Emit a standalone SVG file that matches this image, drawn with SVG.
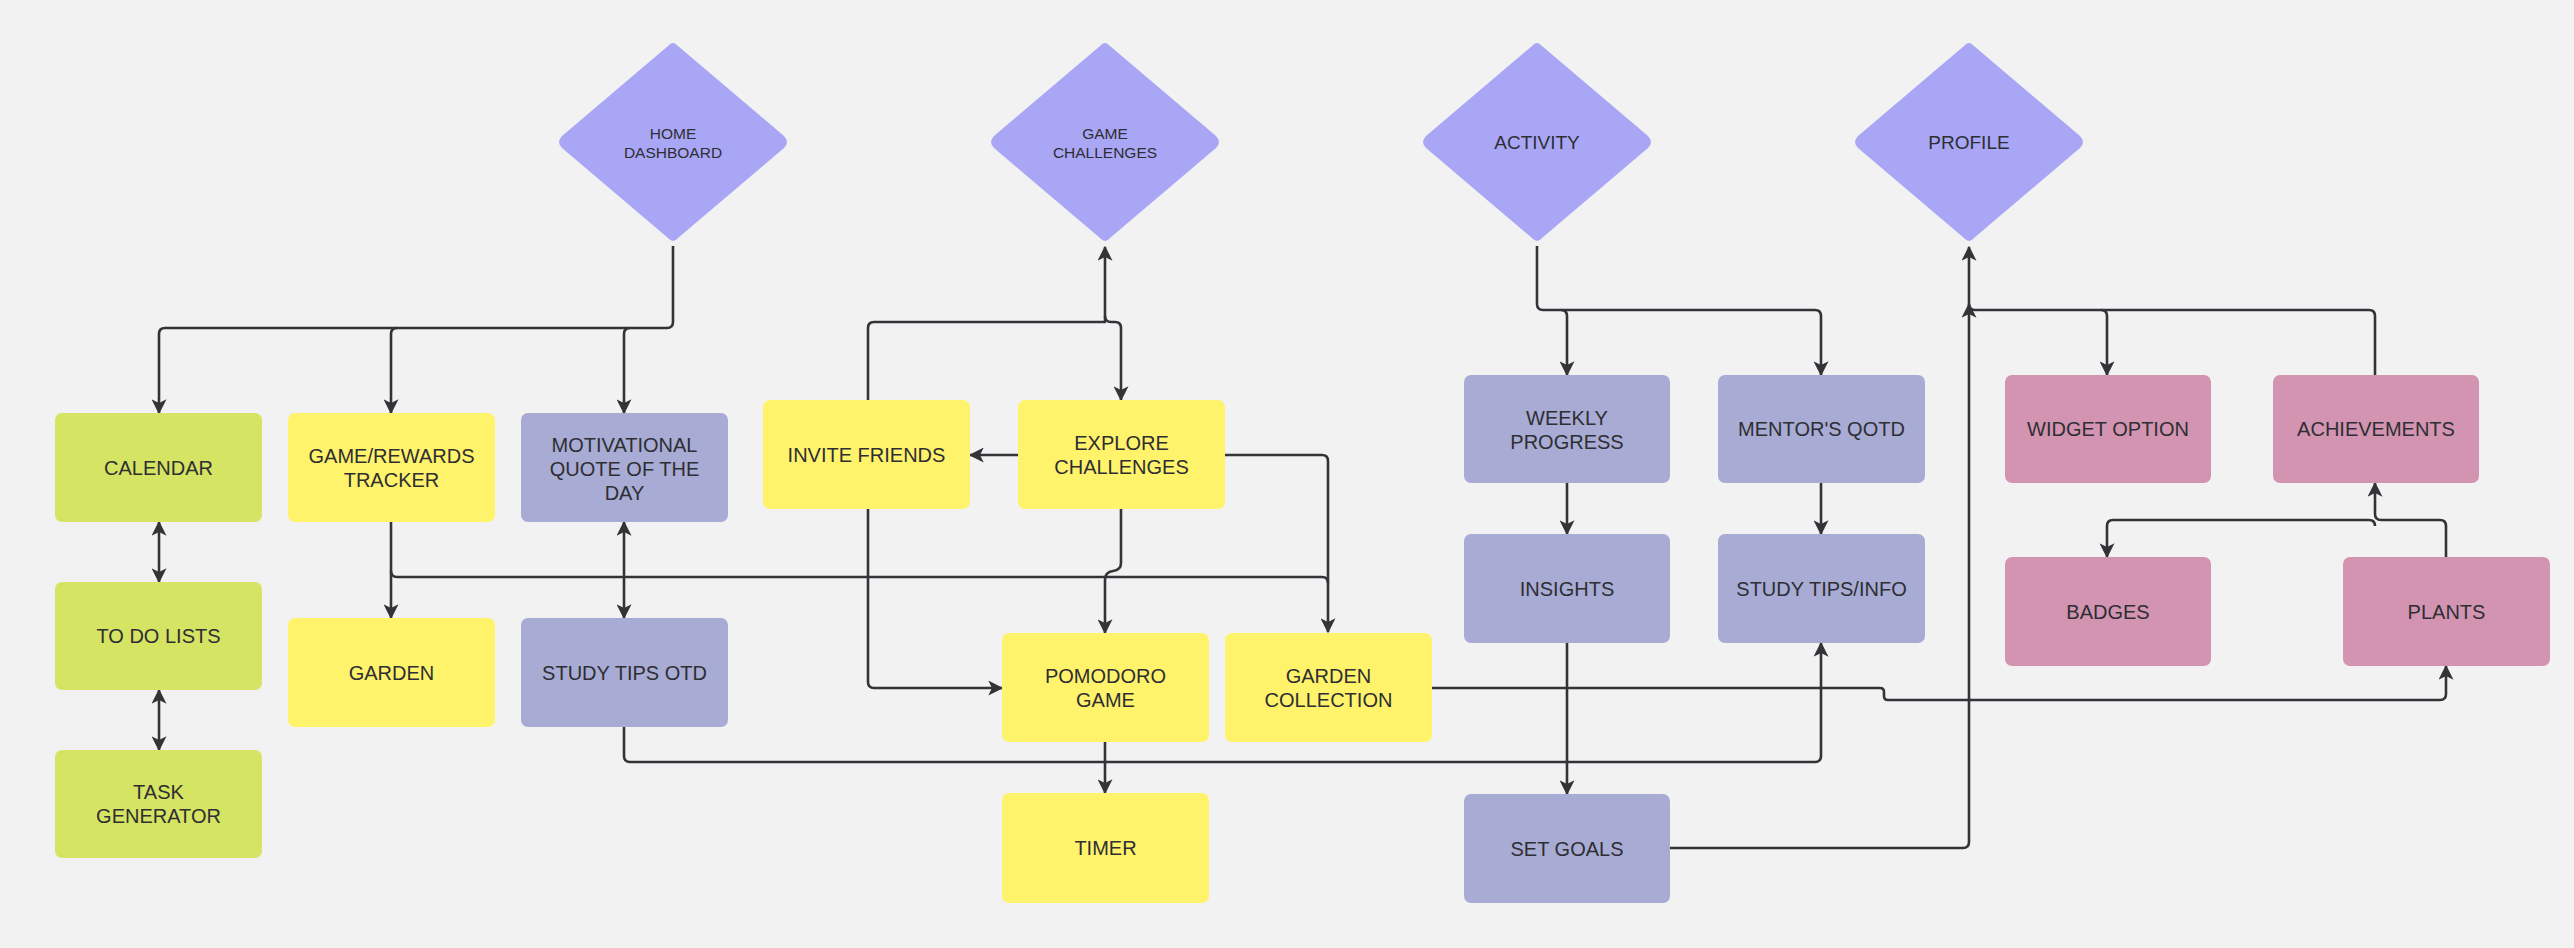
<svg xmlns="http://www.w3.org/2000/svg" width="2574" height="948" viewBox="0 0 2574 948">
<style>
.bg{fill:#f2f2f2}
.dia{fill:#a9a6f6}
.g{fill:#d5e462}
.y{fill:#fff36b}
.b{fill:#a8abd3}
.p{fill:#d394b1}
.t{font-family:"Liberation Sans",Arial,sans-serif;font-size:20px;fill:#2e2e33;text-anchor:middle}
.ts{font-family:"Liberation Sans",Arial,sans-serif;font-size:15.5px;fill:#2e2e33;text-anchor:middle}
.tm{font-family:"Liberation Sans",Arial,sans-serif;font-size:19px;fill:#2e2e33;text-anchor:middle}
.c{fill:none;stroke:#333338;stroke-width:2.6;stroke-linejoin:round}
.a{marker-end:url(#ah)}
.aa{marker-end:url(#ah);marker-start:url(#ah)}
</style>
<defs>
<marker id="ah" viewBox="0 0 12 12" refX="11" refY="6" markerWidth="15" markerHeight="15" markerUnits="userSpaceOnUse" orient="auto-start-reverse">
<path d="M0,0 L12,6 L0,12 L3,6 z" fill="#333338"/>
</marker>
</defs>
<rect class="bg" x="0" y="0" width="2574" height="948"/>

<g id="connectors">
<path class="c a" d="M673,246 V322 Q673,328 667,328 H165 Q159,328 159,334 V413"/>
<path class="c a" d="M397,328 Q391,328 391,334 V413"/>
<path class="c a" d="M630,328 Q624,328 624,334 V413"/>
<path class="c aa" d="M159,522 V582"/>
<path class="c aa" d="M159,690 V750"/>
<path class="c a" d="M391,522 V618"/>
<path class="c" d="M391,571 Q391,577 397,577 H1322 Q1328,577 1328,583"/>
<path class="c aa" d="M624,522 V618"/>
<path class="c a" d="M624,727 V756 Q624,762 630,762 H1815 Q1821,762 1821,756 V643"/>
<path class="c a" d="M868,400 V328 Q868,322 874,322 H1105 V247"/>
<path class="c a" d="M1105,316 Q1105,322 1111,322 H1115 Q1121,322 1121,328 V400"/>
<path class="c a" d="M1018,455 H970"/>
<path class="c a" d="M1225,455 H1322 Q1328,455 1328,461 V632"/>
<path class="c a" d="M1121,509 V563 Q1121,570 1113,571 Q1105,572 1105,580 V633"/>
<path class="c a" d="M868,509 V682 Q868,688 874,688 H1002"/>
<path class="c a" d="M1105,742 V793"/>
<path class="c a" d="M1432,688 H1880 Q1884,688 1884,692 V696 Q1884,700 1888,700 H2440 Q2446,700 2446,694 V666"/>
<path class="c a" d="M1537,246 V304 Q1537,310 1543,310 H1561 Q1567,310 1567,316 V375"/>
<path class="c a" d="M1561,310 H1815 Q1821,310 1821,316 V375"/>
<path class="c a" d="M1567,483 V534"/>
<path class="c a" d="M1821,483 V534"/>
<path class="c a" d="M1567,643 V794"/>
<path class="c a" d="M1670,848 H1963 Q1969,848 1969,842 V247"/>
<path class="c a" d="M2375,375 V316 Q2375,310 2369,310 H1975 Q1969,310 1969,304"/>
<path class="c a" d="M2101,310 Q2107,310 2107,316 V375"/>
<path class="c a" d="M2375,526 Q2375,520 2369,520 H2113 Q2107,520 2107,526 V557"/>
<path class="c a" d="M2446,557 V526 Q2446,520 2440,520 H2381 Q2375,520 2375,514 V483"/>
</g>

<g id="home-dashboard">
<path class="dia" d="M668,46 Q673,40 678,46 L784,136 Q790,142 784,148 L678,238 Q673,244 668,238 L562,148 Q556,142 562,136 Z"/>
<text class="ts" x="673" y="139">HOME</text>
<text class="ts" x="673" y="158">DASHBOARD</text>
</g>
<g id="game-challenges">
<path class="dia" d="M1100,46 Q1105,40 1110,46 L1216,136 Q1222,142 1216,148 L1110,238 Q1105,244 1100,238 L994,148 Q988,142 994,136 Z"/>
<text class="ts" x="1105" y="139">GAME</text>
<text class="ts" x="1105" y="158">CHALLENGES</text>
</g>
<g id="activity">
<path class="dia" d="M1532,46 Q1537,40 1542,46 L1648,136 Q1654,142 1648,148 L1542,238 Q1537,244 1532,238 L1426,148 Q1420,142 1426,136 Z"/>
<text class="tm" x="1537" y="149">ACTIVITY</text>
</g>
<g id="profile">
<path class="dia" d="M1964,46 Q1969,40 1974,46 L2080,136 Q2086,142 2080,148 L1974,238 Q1969,244 1964,238 L1858,148 Q1852,142 1858,136 Z"/>
<text class="tm" x="1969" y="149">PROFILE</text>
</g>

<g id="calendar"><rect class="g" x="55" y="413" width="207" height="109" rx="7"/><text class="t" x="158.5" y="475">CALENDAR</text></g>
<g id="to-do-lists"><rect class="g" x="55" y="582" width="207" height="108" rx="7"/><text class="t" x="158.5" y="643">TO DO LISTS</text></g>
<g id="task-generator"><rect class="g" x="55" y="750" width="207" height="108" rx="7"/><text class="t" x="158.5" y="799">TASK</text><text class="t" x="158.5" y="823">GENERATOR</text></g>
<g id="game-rewards-tracker"><rect class="y" x="288" y="413" width="207" height="109" rx="7"/><text class="t" x="391.5" y="463">GAME/REWARDS</text><text class="t" x="391.5" y="487">TRACKER</text></g>
<g id="garden"><rect class="y" x="288" y="618" width="207" height="109" rx="7"/><text class="t" x="391.5" y="680">GARDEN</text></g>
<g id="motivational-quote"><rect class="b" x="521" y="413" width="207" height="109" rx="7"/><text class="t" x="624.5" y="452">MOTIVATIONAL</text><text class="t" x="624.5" y="476">QUOTE OF THE</text><text class="t" x="624.5" y="500">DAY</text></g>
<g id="study-tips-otd"><rect class="b" x="521" y="618" width="207" height="109" rx="7"/><text class="t" x="624.5" y="680">STUDY TIPS OTD</text></g>
<g id="invite-friends"><rect class="y" x="763" y="400" width="207" height="109" rx="7"/><text class="t" x="866.5" y="462">INVITE FRIENDS</text></g>
<g id="explore-challenges"><rect class="y" x="1018" y="400" width="207" height="109" rx="7"/><text class="t" x="1121.5" y="450">EXPLORE</text><text class="t" x="1121.5" y="474">CHALLENGES</text></g>
<g id="pomodoro-game"><rect class="y" x="1002" y="633" width="207" height="109" rx="7"/><text class="t" x="1105.5" y="683">POMODORO</text><text class="t" x="1105.5" y="707">GAME</text></g>
<g id="garden-collection"><rect class="y" x="1225" y="633" width="207" height="109" rx="7"/><text class="t" x="1328.5" y="683">GARDEN</text><text class="t" x="1328.5" y="707">COLLECTION</text></g>
<g id="timer"><rect class="y" x="1002" y="793" width="207" height="110" rx="7"/><text class="t" x="1105.5" y="855">TIMER</text></g>
<g id="weekly-progress"><rect class="b" x="1464" y="375" width="206" height="108" rx="7"/><text class="t" x="1567" y="425">WEEKLY</text><text class="t" x="1567" y="449">PROGRESS</text></g>
<g id="mentors-qotd"><rect class="b" x="1718" y="375" width="207" height="108" rx="7"/><text class="t" x="1821.5" y="436">MENTOR'S QOTD</text></g>
<g id="insights"><rect class="b" x="1464" y="534" width="206" height="109" rx="7"/><text class="t" x="1567" y="596">INSIGHTS</text></g>
<g id="study-tips-info"><rect class="b" x="1718" y="534" width="207" height="109" rx="7"/><text class="t" x="1821.5" y="596">STUDY TIPS/INFO</text></g>
<g id="set-goals"><rect class="b" x="1464" y="794" width="206" height="109" rx="7"/><text class="t" x="1567" y="856">SET GOALS</text></g>
<g id="widget-option"><rect class="p" x="2005" y="375" width="206" height="108" rx="7"/><text class="t" x="2108" y="436">WIDGET OPTION</text></g>
<g id="achievements"><rect class="p" x="2273" y="375" width="206" height="108" rx="7"/><text class="t" x="2376" y="436">ACHIEVEMENTS</text></g>
<g id="badges"><rect class="p" x="2005" y="557" width="206" height="109" rx="7"/><text class="t" x="2108" y="619">BADGES</text></g>
<g id="plants"><rect class="p" x="2343" y="557" width="207" height="109" rx="7"/><text class="t" x="2446.5" y="619">PLANTS</text></g>
</svg>
